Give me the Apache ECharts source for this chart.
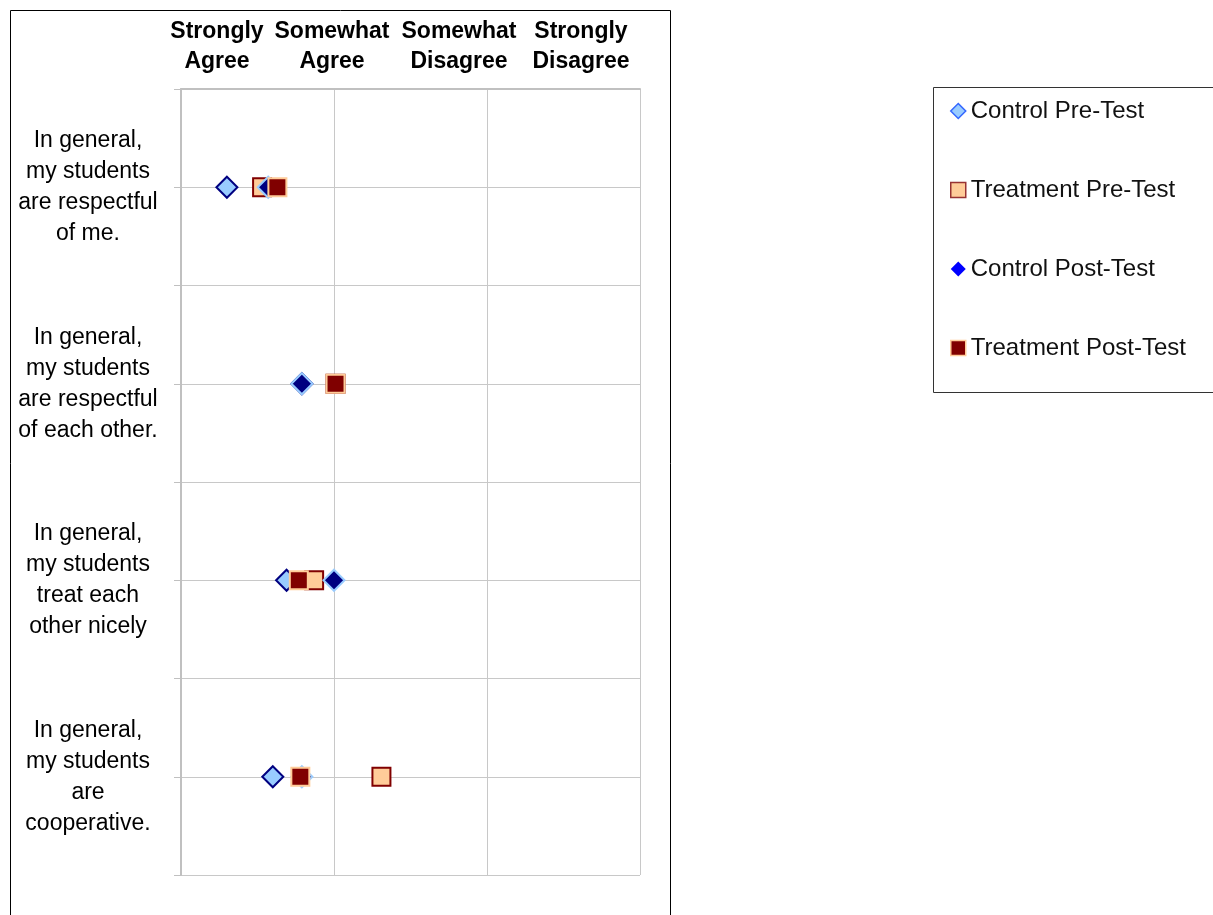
<!DOCTYPE html>
<html>
<head>
<meta charset="utf-8">
<script src="https://cdn.jsdelivr.net/npm/echarts@6/dist/echarts.min.js"></script>
<style>
html,body{margin:0;padding:0;background:#fff;}
#chart{width:1213px;height:915px;}
</style>
</head>
<body>
<div id="chart"></div>
<script>
// ---- data ----
const questions = [
  'In general,\nmy students\nare respectful\nof me.',
  'In general,\nmy students\nare respectful\nof each other.',
  'In general,\nmy students\ntreat each\nother nicely',
  'In general,\nmy students\nare\ncooperative.'
];
const questionRows = [1, 3, 5, 7];
const scaleLabels = ['Strongly\nAgree', 'Somewhat\nAgree', 'Somewhat\nDisagree', 'Strongly\nDisagree'];
const seriesNames = ['Control Pre-Test', 'Treatment Pre-Test', 'Control Post-Test', 'Treatment Post-Test'];
const controlPre    = [1.30, 1.79, 1.69, 1.60];
const treatmentPre  = [1.53, 2.01, 1.87, 2.31];
const controlPost   = [1.57, 1.79, 2.00, 1.79];
const treatmentPost = [1.63, 2.01, 1.77, 1.78];

// ---- layout / style ----
const FONT = '"Liberation Sans", Arial, sans-serif';
const headerX = [217, 332, 459, 581];
const gridCol = '#c8c8c8';

function pts(vals) { return vals.map((v, i) => [v, questionRows[i]]); }

const styles = [
  {symbol: 'diamond', size: 21, fill: '#99CCFF', stroke: '#000080'},
  {symbol: 'rect', size: 18, fill: '#FFCC99', stroke: '#800000'},
  {symbol: 'diamond', size: 21, fill: '#000080', stroke: '#99CCFF'},
  {symbol: 'rect', size: 18, fill: '#800000', stroke: '#FFCC99'}
];
const values = [controlPre, treatmentPre, controlPost, treatmentPost];

const legendStyles = [
  {icon: 'diamond', itemStyle: {color: '#99CCFF', borderColor: '#3366FF', borderWidth: 1.5}},
  {icon: 'rect', itemStyle: {color: '#FFCC99', borderColor: '#993333', borderWidth: 1.5}},
  {icon: 'diamond', itemStyle: {color: '#0000FF', borderColor: '#0000FF', borderWidth: 0}},
  {icon: 'rect', itemStyle: {color: '#800000', borderColor: '#FFCC99', borderWidth: 1.5}}
];

const chart = echarts.init(document.getElementById('chart'), null, {renderer: 'canvas'});

const graphics = [
  {type: 'rect', shape: {x: 10.5, y: 10.5, width: 660, height: 1000}, style: {fill: 'none', stroke: '#000', lineWidth: 1}, silent: true, z: 0},
  {type: 'rect', shape: {x: 933.5, y: 87.5, width: 300, height: 305}, style: {fill: 'none', stroke: '#333', lineWidth: 1}, silent: true, z: 0}
];
scaleLabels.forEach((t, i) => {
  graphics.push({
    type: 'text', x: headerX[i], y: 17,
    style: {text: t, font: 'bold 23px ' + FONT, fill: '#000', textAlign: 'center', textVerticalAlign: 'top', lineHeight: 30, align: 'center', verticalAlign: 'top'},
    silent: true
  });
});

const option = {
  backgroundColor: '#fff',
  animation: false,
  grid: {left: 181, right: 573, top: 89, bottom: 40, containLabel: false},
  xAxis: {
    type: 'value', min: 1, max: 4, interval: 1,
    axisLine: {show: true, lineStyle: {color: '#c0c0c0', width: 2}},
    axisTick: {show: false},
    axisLabel: {show: false},
    splitLine: {show: true, lineStyle: {color: gridCol, width: 1}}
  },
  yAxis: {
    type: 'value', min: 0, max: 8, interval: 1, inverse: true,
    axisLine: {show: true, onZero: false, lineStyle: {color: '#c0c0c0', width: 2}},
    axisTick: {show: true, length: 7, lineStyle: {color: '#c0c0c0', width: 1}},
    axisLabel: {
      show: true, margin: 93, align: 'center',
      fontFamily: FONT, fontSize: 23, lineHeight: 31, color: '#000',
      formatter: function (v) {
        const idx = questionRows.indexOf(v);
        return idx >= 0 ? questions[idx] : '';
      }
    },
    splitLine: {show: true, lineStyle: {color: gridCol, width: 1}}
  },
  legend: {
    orient: 'vertical', left: 950, top: 99, itemGap: 55,
    itemWidth: 15, itemHeight: 15, padding: 0,
    textStyle: {fontFamily: FONT, fontSize: 24, lineHeight: 24, color: '#111'},
    data: seriesNames.map((n, i) => Object.assign({name: n}, legendStyles[i]))
  },
  graphic: graphics,
  series: seriesNames.map((n, i) => ({
    name: n, type: 'scatter',
    symbol: styles[i].symbol, symbolSize: styles[i].size,
    itemStyle: {color: styles[i].fill, borderColor: styles[i].stroke, borderWidth: 2, opacity: 1},
    emphasis: {disabled: true},
    data: pts(values[i]),
    z: 3 + i
  }))
};
chart.setOption(option);
</script>
</body>
</html>
